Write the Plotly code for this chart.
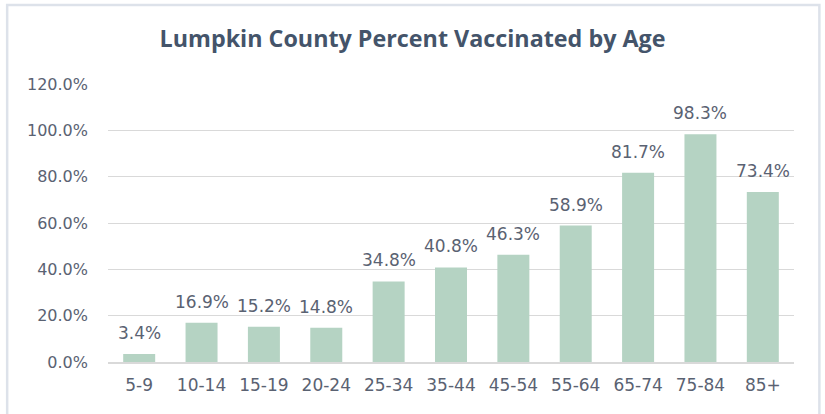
import plotly.graph_objects as go

categories = ["5-9", "10-14", "15-19", "20-24", "25-34", "35-44", "45-54", "55-64", "65-74", "75-84", "85+"]
values = [3.4, 16.9, 15.2, 14.8, 34.8, 40.8, 46.3, 58.9, 81.7, 98.3, 73.4]
tick_vals = [0, 20, 40, 60, 80, 100, 120]
tick_text = ["0.0%", "20.0%", "40.0%", "60.0%", "80.0%", "100.0%", "120.0%"]

BAR = "#b5d3c3"
TXT = "#5a6272"
GRID = "#d9d9d9"
FONT = "DejaVu Sans"

fig = go.Figure(go.Bar(
    x=categories, y=values,
    marker=dict(color=BAR, line=dict(width=0)),
    hoverinfo="skip",
))

annotations = [
    dict(x=c, y=v, xref="x", yref="y", text=f"{v:.1f}%", showarrow=False,
         yanchor="bottom", yshift=9,
         font=dict(size=17, color=TXT, family=FONT))
    for c, v in zip(categories, values)
]

fig.update_layout(
    width=825, height=414,
    paper_bgcolor="white", plot_bgcolor="white",
    margin=dict(l=108, r=31, t=84, b=52),
    bargap=0.487,
    showlegend=False,
    title=dict(text="<b>Lumpkin County Percent Vaccinated by Age</b>",
               x=0.5, xanchor="center", y=0.905, yanchor="middle",
               font=dict(size=23.3, color="#44546a", family="Open Sans")),
    font=dict(family=FONT, color=TXT),
    annotations=annotations,
    shapes=[dict(type="rect", xref="paper", yref="paper",
                 x0=-0.147, x1=1.037, y0=-0.25, y1=1.284,
                 line=dict(color="#dde2ea", width=2.5), layer="below")],
)
fig.update_xaxes(showgrid=False, showline=True, linecolor=GRID, linewidth=2,
                 tickfont=dict(size=17, color=TXT), ticks="", ticklabelstandoff=7)
fig.update_yaxes(range=[0, 120], tickvals=tick_vals, ticktext=tick_text,
                 showgrid=True, gridcolor=GRID, gridwidth=1, zeroline=False,
                 tickfont=dict(size=16, color=TXT), ticklabelstandoff=19)

fig.write_html("out.html", config={"displayModeBar": False},
               post_script="document.body.style.margin='0';")
